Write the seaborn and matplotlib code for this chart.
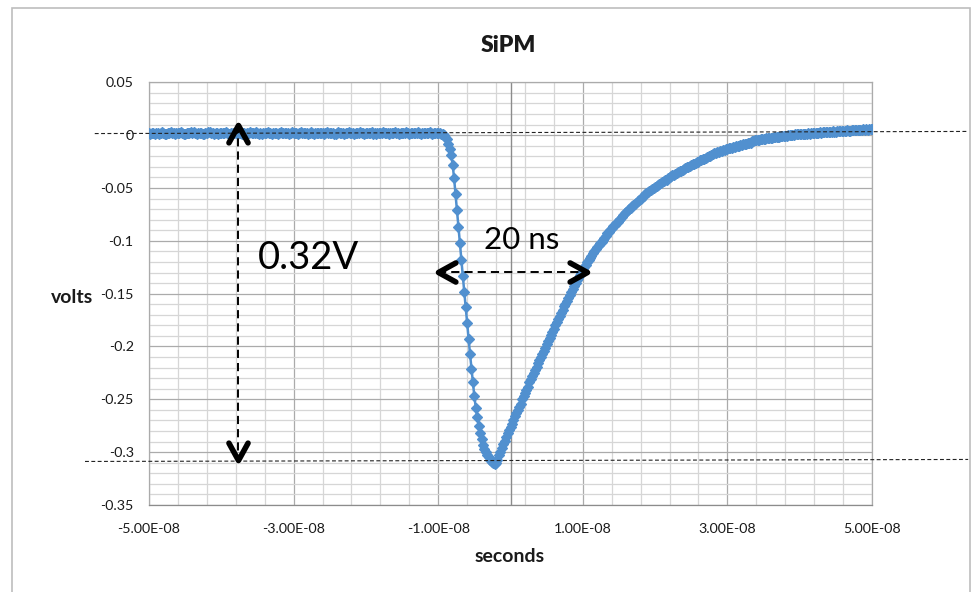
import numpy as np
import matplotlib
matplotlib.use("Agg")
import matplotlib.pyplot as plt
import seaborn as sns
from matplotlib.path import Path
from matplotlib.markers import MarkerStyle
from matplotlib.patches import Rectangle

# Scope capture of a SiPM pulse, one sample every 0.2 ns starting at -50 ns
start_time_ns = -50.0
sample_interval_ns = 0.2

# Baseline before the pulse (mV), -50.0 ns ... -10.2 ns
baseline_mv = [
    2, 1, 2, 2, 1,   2, 2, 1, 2, 3,   2, 1, 1, 2, 2,   3, 2, 2, 1, 2,
    2, 2, 3, 2, 1,   1, 2, 2, 2, 3,   2, 3, 2, 1, 2,   2, 2, 1, 1, 2,
    2, 3, 3, 2, 2,   1, 2, 2, 1, 2,   2, 2, 2, 3, 2,   1, 1, 2, 2, 2,
    2, 3, 2, 2, 1,   2, 2, 1, 2, 2,   3, 2, 2, 2, 3,   2, 1, 2, 1, 2,
    2, 2, 3, 2, 2,   1, 2, 2, 2, 1,   2, 3, 2, 2, 2,   2, 2, 1, 2, 3,
    2, 2, 2, 1, 2,   3, 2, 2, 2, 2,   1, 2, 3, 2, 1,   2, 2, 2, 2, 2,
    2, 1, 2, 3, 2,   2, 2, 2, 1, 1,   2, 3, 2, 2, 2,   1, 2, 2, 3, 2,
    2, 2, 1, 2, 2,   2, 3, 2, 2, 1,   2, 2, 2, 2, 3,   1, 2, 1, 2, 2,
    2, 2, 3, 2, 2,   2, 1, 2, 2, 2,   3, 2, 2, 1, 2,   2, 2, 2, 3, 2,
    1, 2, 2, 2, 2,   2, 3, 2, 1, 2,   2, 2, 2, 2, 3,   2, 1, 2, 2, 2,
]

# Leading edge (mV), -10.0 ns ... -2.2 ns
leading_edge_mv = [
    2, 2, 1, 1, 0,
    -2, -4, -8, -13, -19,
    -28, -41, -56, -71, -87,
    -102, -118, -133, -148, -163,
    -178, -193, -207, -221, -234,
    -247, -258, -267, -275, -282,
    -288, -293, -297, -300, -303,
    -305, -307, -309, -310, -311,
]

# Recovery tail (mV), -2.0 ns ... 50.0 ns
recovery_mv = [
    -310, -307, -303, -300, -296,
    -292, -289, -286, -282, -279,
    -276, -273, -270, -266, -263,
    -260, -257, -254, -250, -247,
    -244, -241, -238, -234, -231,
    -228, -225, -222, -219, -216,
    -213, -210, -207, -204, -201,
    -198, -195, -192, -189, -186,
    -183, -180, -177, -174, -171,
    -168, -165, -162, -160, -157,
    -154, -151, -148, -146, -143,
    -140, -137, -135, -132, -130,
    -127, -125, -123, -120, -118,
    -116, -114, -112, -110, -108,
    -106, -104, -102, -101, -99,
    -97, -95, -93, -92, -90,
    -88, -86, -85, -83, -82,
    -80, -79, -77, -76, -74,
    -73, -71, -70, -69, -67,
    -66, -65, -64, -62, -61,
    -60, -59, -58, -56, -55,
    -54, -53, -52, -51, -50,
    -49, -48, -47, -46, -45,
    -44, -43, -42, -42, -41,
    -40, -39, -38, -38, -37,
    -36, -35, -34, -34, -33,
    -32, -31, -30, -30, -29,
    -28, -27, -27, -26, -25,
    -25, -24, -24, -23, -23,
    -22, -21, -20, -20, -19,
    -18, -17, -17, -16, -16,
    -15, -15, -14, -14, -13,
    -13, -12, -12, -12, -11,
    -11, -10, -10, -10, -9,
    -9, -8, -8, -8, -7,
    -7, -7, -6, -6, -5,
    -5, -5, -5, -4, -4,
    -4, -4, -3, -3, -3,
    -3, -3, -2, -2, -2,
    -2, -2, -1, -1, -1,
    -1, -1, 0, 0, 0,
    0, 0, 1, 1, 1,
    1, 1, 1, 1, 1,
    1, 2, 1, 2, 2,
    2, 2, 2, 2, 3,
    2, 3, 3, 3, 3,
    3, 3, 3, 4, 3,
    3, 4, 4, 4, 4,
    4, 4, 4, 5, 4,
    4, 5, 5, 5, 5,
    5, 5, 5, 5, 6,
    5, 6, 5, 6, 6,
    6,
]

# Axis ticks and labels
x_ticks = [-5e-8, -3e-8, -1e-8, 1e-8, 3e-8, 5e-8]
x_tick_labels = ["-5.00E-08", "-3.00E-08", "-1.00E-08", "1.00E-08", "3.00E-08", "5.00E-08"]
y_ticks = [0.05, 0.0, -0.05, -0.1, -0.15, -0.2, -0.25, -0.3, -0.35]
y_tick_labels = ["0.05", "0", "-0.05", "-0.1", "-0.15", "-0.2", "-0.25", "-0.3", "-0.35"]

# Measurement annotations (seconds / volts)
guide_top_v = (0.0015, 0.0035)
guide_bottom_v = (-0.3088, -0.3069)
guide_top_x = (-5.75e-8, 6.33e-8)
guide_bottom_x = (-5.885e-8, 6.33e-8)
amp_x = -3.77e-8
amp_top_v, amp_bottom_v = 0.0095, -0.307
amp_text = "0.32V"
width_v = -0.1295
width_start, width_end = -1.003e-8, 1.054e-8
width_text = "20 ns"

volts_mv = baseline_mv + leading_edge_mv + recovery_mv
volts = np.array(volts_mv, dtype=float) / 1000.0
times = (start_time_ns + sample_interval_ns * np.arange(len(volts))) * 1e-9

sns.set_theme(style="white")
plt.rcParams["font.family"] = ["Lato", "DejaVu Sans"]

fig = plt.figure(figsize=(9.76, 5.92), dpi=100)
ax = fig.add_axes([149 / 976, 1 - 505 / 592, 723 / 976, 422.7 / 592])

line_color = "#5190cf"
sns.lineplot(x=times, y=volts, ax=ax, color=line_color, lw=1.8,
             marker="D", markersize=4.6, markeredgecolor=line_color,
             markerfacecolor=line_color, markeredgewidth=0.9,
             estimator=None, sort=False, zorder=3)

ax.set_xlim(-5e-8, 5e-8)
ax.set_ylim(-0.35, 0.05)
ax.set_xticks(x_ticks)
ax.set_xticklabels(x_tick_labels)
ax.set_yticks(y_ticks)
ax.set_yticklabels(y_tick_labels)
ax.set_xticks(np.linspace(-5e-8, 5e-8, 26), minor=True)
ax.set_yticks(np.linspace(-0.35, 0.05, 41), minor=True)
ax.tick_params(which="both", length=0)
ax.tick_params(axis="x", pad=13, labelsize=10.3, labelcolor="#1a1a1a")
ax.tick_params(axis="y", pad=11, labelsize=10.3, labelcolor="#1a1a1a")

ax.grid(which="minor", color="#d6d6d6", lw=0.9, zorder=0)
ax.grid(which="major", color="#ababab", lw=0.9, zorder=0)
ax.set_axisbelow(True)
ax.axvline(0, color="#8c8c8c", lw=1.0, zorder=1)
for side, spine in ax.spines.items():
    spine.set_color("#ababab")
    spine.set_linewidth(0.9)
ax.spines["bottom"].set_color("#8c8c8c")

ax.set_xlabel("")
ax.set_ylabel("")
ax.text(0.4993, -0.123, "seconds", transform=ax.transAxes, ha="center",
        va="center", fontsize=14, fontweight="bold", color="#1a1a1a")
ax.text(-0.1065, 0.492, "volts", transform=ax.transAxes, ha="center",
        va="center", fontsize=14, fontweight="bold", color="#1a1a1a")
ax.text(0.497, 1.088, "SiPM", transform=ax.transAxes, ha="center",
        va="center", fontsize=16.5, fontweight="heavy", color="#1a1a1a")

# Reference levels at the baseline and at the pulse minimum
ax.plot(guide_top_x, guide_top_v, color="#222222", lw=0.8,
        ls=(0, (3.5, 2.2)), clip_on=False, zorder=5)
ax.plot(guide_bottom_x, guide_bottom_v, color="#222222", lw=0.8,
        ls=(0, (3.5, 2.2)), clip_on=False, zorder=5)


def chevron(direction):
    spread = 0.55
    shapes = {
        "up": [(-spread, -1), (0, 0), (spread, -1)],
        "down": [(-spread, 1), (0, 0), (spread, 1)],
        "left": [(1, spread), (0, 0), (1, -spread)],
        "right": [(-1, spread), (0, 0), (-1, -spread)],
    }
    path = Path(shapes[direction], [Path.MOVETO, Path.LINETO, Path.LINETO])
    return MarkerStyle(path, capstyle="round", joinstyle="miter")


head_kw = dict(ms=25, mew=4.0, mfc="none", mec="black", ls="none",
               clip_on=False, zorder=7)

# Pulse amplitude
ax.plot([amp_x, amp_x], [amp_top_v, amp_bottom_v], color="black", lw=1.4,
        ls=(0, (4.2, 2.6)), zorder=6)
ax.plot([amp_x], [amp_top_v], marker=chevron("up"), **head_kw)
ax.plot([amp_x], [amp_bottom_v], marker=chevron("down"), **head_kw)
ax.text(-2.787e-8, -0.1163, amp_text, ha="center", va="center",
        fontsize=27.5, color="black", zorder=7)

# Pulse width
ax.plot([width_start, width_end], [width_v, width_v], color="black", lw=1.4,
        ls=(0, (4.2, 2.6)), zorder=6)
ax.plot([width_start], [width_v], marker=chevron("left"), **head_kw)
ax.plot([width_end], [width_v], marker=chevron("right"), **head_kw)
ax.text(0.159e-8, -0.0992, width_text, ha="center", va="center",
        fontsize=22.5, color="black", zorder=7)

# Chart area frame
fig.add_artist(Rectangle((12 / 976, -0.05), (970 - 12) / 976, 1.05 - 8 / 592,
                         transform=fig.transFigure, fill=False,
                         ec="#bdbdbd", lw=1.2, zorder=0))

fig.savefig("out.png", dpi=100, facecolor="white")
